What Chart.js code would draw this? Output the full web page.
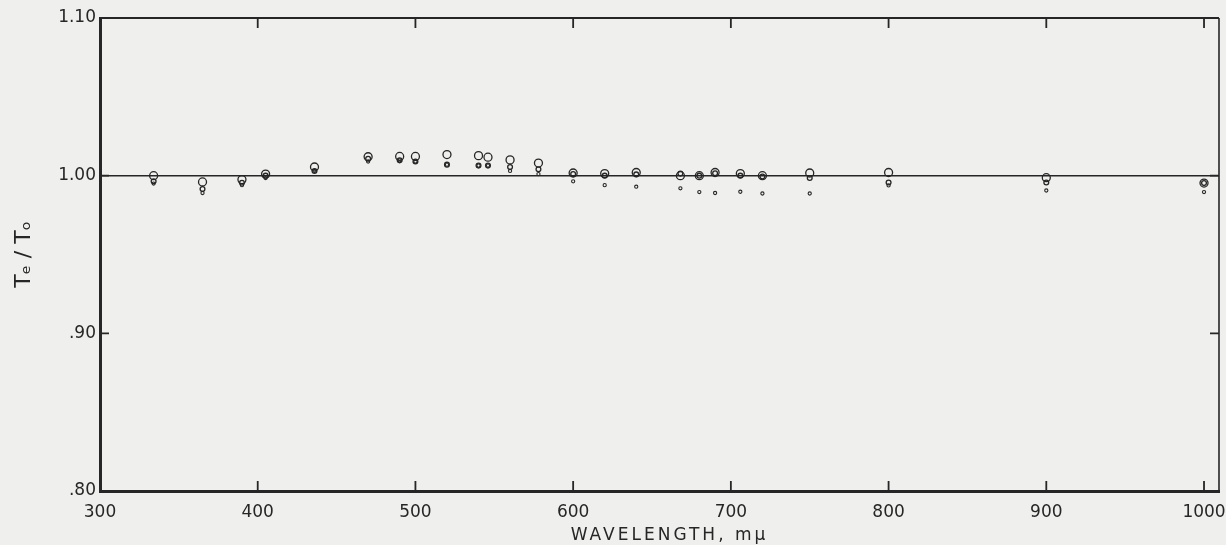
<!DOCTYPE html>
<html>
<head>
<meta charset="utf-8">
<script src="https://cdn.jsdelivr.net/npm/chart.js@4.4.1/dist/chart.umd.min.js"></script>
<style>
  body { margin: 0; background: #efefed; }
  #wrap { width: 1226px; height: 545px; position: relative; }
</style>
</head>
<body>
<div id="wrap"><canvas id="myChart"></canvas></div>
<script>
// wavelengths, m\u03bc
const wavelengths = [334, 365, 390, 405, 436, 470, 490, 500, 520, 540, 546, 560, 578,
  600, 620, 640, 668, 680, 690, 706, 720, 750, 800, 900, 1000];

// large open circles
const largeRatio = [1.000, 0.996, 0.9975, 1.001, 1.0055, 1.012, 1.0122, 1.0122, 1.0134, 1.0127, 1.0117, 1.010, 1.008,
  1.0017, 1.0013, 1.002, 1.000, 1.000, 1.002, 1.0013, 1.000, 1.0017, 1.002, 0.9987, 0.9953];

// medium circles
const mediumRatio = [0.9965, 0.9915, 0.9955, 1.000, 1.003, 1.0107, 1.0097, 1.009, 1.007, 1.0064, 1.0064, 1.0055, 1.004,
  1.001, 1.000, 1.0008, 1.0013, 1.000, 1.0015, 1.000, 0.9995, 0.9985, 0.9957, 0.9957, 0.9953];

// small circles
const smallRatio = [0.995, 0.989, 0.994, 0.9985, 1.003, 1.009, 1.0097, 1.009, 1.007, 1.0064, 1.0064, 1.003, 1.001,
  0.9964, 0.994, 0.993, 0.992, 0.9896, 0.989, 0.9898, 0.9887, 0.9887, 0.9938, 0.9906, 0.9896];

const xTicks = [300, 400, 500, 600, 700, 800, 900, 1000];
const yTicks = [0.80, 0.90, 1.00, 1.10];

const ink = '#262626';

function pts(ys) {
  let out = [];
  for (let i = 0; i < wavelengths.length; i++) {
    out.push({x: wavelengths[i], y: ys[i]});
  }
  return out;
}

const framePlugin = {
  id: 'frame',
  beforeDraw(chart) {
    const c = chart.ctx;
    c.save();
    c.fillStyle = '#efefed';
    c.fillRect(0, 0, chart.width, chart.height);
    c.restore();
  },
  afterDraw(chart) {
    const c = chart.ctx;
    const a = chart.chartArea;
    const xs = chart.scales.x;
    const ys = chart.scales.y;
    c.save();
    c.strokeStyle = ink;
    // top and right edges
    c.lineWidth = 2;
    c.beginPath();
    c.moveTo(a.left, a.top);
    c.lineTo(a.right, a.top);
    c.stroke();
    c.lineWidth = 1.6;
    c.beginPath();
    c.moveTo(a.right, a.top);
    c.lineTo(a.right, a.bottom);
    c.stroke();
    // inward tick marks
    c.lineWidth = 1.8;
    for (const v of xTicks) {
      if (v === 300) continue;
      const px = xs.getPixelForValue(v);
      c.beginPath();
      c.moveTo(px, a.bottom);
      c.lineTo(px, a.bottom - 10);
      c.moveTo(px, a.top);
      c.lineTo(px, a.top + 10);
      c.stroke();
    }
    for (const v of yTicks) {
      if (v === 0.80 || v === 1.10) continue;
      const py = ys.getPixelForValue(v);
      c.beginPath();
      c.moveTo(a.left, py);
      c.lineTo(a.left + 9, py);
      c.moveTo(a.right, py);
      c.lineTo(a.right - 9, py);
      c.stroke();
    }
    // x axis title with letter spacing
    c.fillStyle = ink;
    c.font = '17px "DejaVu Sans"';
    c.letterSpacing = '3px';
    c.textAlign = 'center';
    c.textBaseline = 'middle';
    c.fillText('WAVELENGTH, m\u03bc', (a.left + a.right) / 2 + 10, 536);
    c.restore();
  }
};

const ctx = document.getElementById('myChart');

const dotStyle = {
  showLine: false,
  pointStyle: 'circle',
  backgroundColor: 'rgba(0,0,0,0)',
  borderColor: ink,
  pointHoverRadius: 0
};

new Chart(ctx, {
  type: 'scatter',
  data: {
    datasets: [
      Object.assign({label: 'large', data: pts(largeRatio), pointRadius: 4.0, pointBorderWidth: 1.3}, dotStyle),
      Object.assign({label: 'medium', data: pts(mediumRatio), pointRadius: 2.4, pointBorderWidth: 1.3}, dotStyle),
      Object.assign({label: 'small', data: pts(smallRatio), pointRadius: 1.6, pointBorderWidth: 1.1}, dotStyle)
    ]
  },
  options: {
    responsive: true,
    maintainAspectRatio: false,
    animation: false,
    layout: {padding: {top: 18, right: 7, left: 0, bottom: 0}},
    plugins: {
      legend: {display: false},
      tooltip: {enabled: false}
    },
    scales: {
      x: {
        type: 'linear',
        min: 300,
        max: 1009.5,
        afterBuildTicks: (s) => { s.ticks = xTicks.map(v => ({value: v})); },
        afterFit: (s) => { s.height = 54; s.paddingLeft = 0; s.paddingRight = 0; },
        grid: {display: false, drawTicks: false},
        border: {display: true, width: 3, color: ink},
        ticks: {
          autoSkip: false,
          padding: 11,
          color: ink,
          font: {family: 'DejaVu Sans', size: 17},
          maxRotation: 0,
          callback: (v) => String(v)
        },
        title: {display: false}
      },
      y: {
        min: 0.80,
        max: 1.10,
        afterBuildTicks: (s) => { s.ticks = yTicks.map(v => ({value: v})); },
        afterFit: (s) => { s.width = 100; s.paddingTop = 0; s.paddingBottom = 0; },
        grid: {
          display: true,
          drawTicks: false,
          lineWidth: 1.5,
          color: (c) => (c.tick && Math.abs(c.tick.value - 1) < 1e-6) ? ink : 'rgba(0,0,0,0)'
        },
        border: {display: true, width: 3, color: ink},
        ticks: {
          autoSkip: false,
          padding: 4,
          color: ink,
          font: {family: 'DejaVu Sans', size: 17},
          callback: (v) => v.toFixed(2).replace(/^0/, '')
        },
        title: {
          display: true,
          text: 'T\u2091 / T\u2092',
          color: ink,
          font: {family: 'DejaVu Sans', size: 22},
          padding: {top: 11, bottom: 0}
        }
      }
    }
  },
  plugins: [framePlugin]
});
</script>
</body>
</html>
